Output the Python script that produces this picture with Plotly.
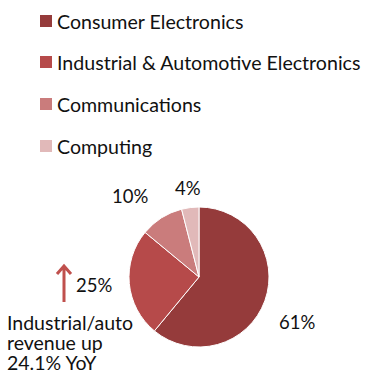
import plotly.graph_objects as go

# Revenue mix by end market (share of total, %)
segments = ["Consumer Electronics", "Industrial & Automotive Electronics",
            "Communications", "Computing"]
shares = [61, 25, 10, 4]
colors = ["#953B3B", "#B64A4A", "#CA7C7C", "#E1B9B9"]

# Where each percentage label sits (pixels, from top-left)
label_pos = [(297, 322), (94, 285), (130, 196), (188, 188)]

note_lines = ["Industrial/auto", "revenue up", "24.1% YoY"]

W, H = 366, 374
FONT = "Lato"


def px(x):
    return x / W


def py(y):
    return 1 - y / H


fig = go.Figure()

# Pie centred near (199, 277) with radius ~70 px
cx, cy, r = 199, 277, 70
fig.add_trace(go.Pie(
    labels=segments,
    values=shares,
    marker=dict(colors=colors, line=dict(color="white", width=1)),
    sort=False,
    direction="clockwise",
    rotation=0,
    textinfo="none",
    hoverinfo="label+percent",
    showlegend=False,
    domain=dict(x=[px(cx - r), px(cx + r)], y=[py(cy + r), py(cy - r)]),
))

annotations = []
shapes = []

# Legend: coloured squares with category names
leg_y = [21, 62, 104, 146]
for name, col, y in zip(segments, colors, leg_y):
    shapes.append(dict(type="rect", xref="paper", yref="paper",
                       x0=px(40), x1=px(52), y0=py(y + 6), y1=py(y - 6),
                       fillcolor=col, line=dict(width=0)))
    annotations.append(dict(text=name, xref="paper", yref="paper",
                            x=px(55), y=py(y), xanchor="left", yanchor="middle",
                            showarrow=False,
                            font=dict(family=FONT, size=19.6, color="#111111")))

# Percentage labels around the pie
total = sum(shares)
for v, (x, y) in zip(shares, label_pos):
    annotations.append(dict(text=f"{round(100 * v / total)}%", xref="paper", yref="paper",
                            x=px(x), y=py(y), xanchor="center", yanchor="middle",
                            showarrow=False,
                            font=dict(family=FONT, size=18.5, color="#111111")))

# Upward arrow next to the industrial share
shapes.append(dict(type="path", xref="paper", yref="paper",
                   path=(f"M {px(64)} {py(302)} L {px(64)} {py(266)} "
                         f"M {px(57)} {py(274)} L {px(64)} {py(266)} L {px(71)} {py(274)}"),
                   line=dict(color="#C0504D", width=3)))

# Growth note, one annotation per line for tight line spacing
for i, line in enumerate(note_lines):
    annotations.append(dict(text=line, xref="paper", yref="paper",
                            x=px(5), y=py(322 + 20 * i), xanchor="left", yanchor="middle",
                            showarrow=False,
                            font=dict(family=FONT, size=19.5, color="#111111")))

fig.update_layout(
    width=W, height=H,
    margin=dict(l=0, r=0, t=0, b=0),
    paper_bgcolor="white",
    plot_bgcolor="white",
    annotations=annotations,
    shapes=shapes,
)

fig.write_html("out.html")
